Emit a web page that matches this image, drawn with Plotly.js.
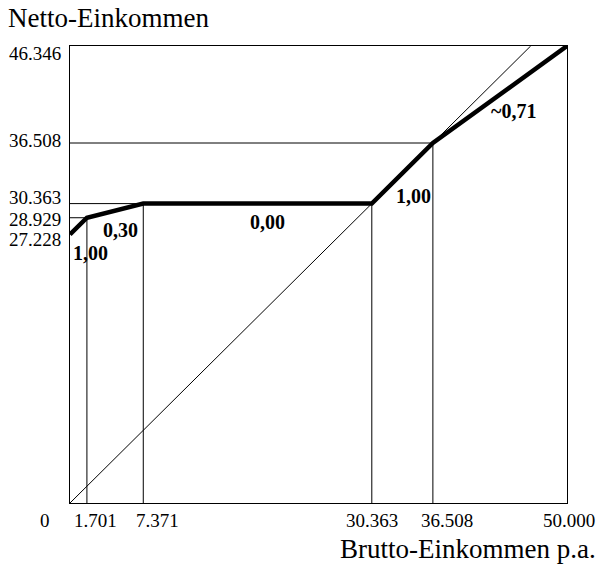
<!DOCTYPE html>
<html>
<head>
<meta charset="utf-8">
<script src="https://cdn.plot.ly/plotly-3.0.1.min.js"></script>
<style>html,body{margin:0;padding:0;background:#fff;}#chart{width:599px;height:567px;}</style>
</head>
<body>
<div id="chart"></div>
<script>
// ---- data ----
const bruttoPoints = [0, 1701, 7371, 30363, 36508, 50000];
const nettoPoints  = [27228, 28929, 30363, 30363, 36508, 46346];
const slopeLabels  = ["1,00", "0,30", "0,00", "1,00", "~0,71"];
const xTickVals    = [0, 1701, 7371, 30363, 36508, 50000];
const xTickLabels  = ["0", "1.701", "7.371", "30.363", "36.508", "50.000"];
const yTickVals    = [46346, 36508, 30363, 28929, 27228];
const yTickLabels  = ["46.346", "36.508", "30.363", "28.929", "27.228"];
const diagonalEnd  = 46346;
const xTitle = "Brutto-Einkommen p.a.";
const yTitle = "Netto-Einkommen";

// ---- styling ----
const FONT = "Liberation Serif, Times New Roman, serif";
const xMax = 50000, yMax = 46346;
const thin = {color: "#000", width: 1};

const traces = [];
// diagonal reference (netto = brutto)
traces.push({x: [0, diagonalEnd], y: [0, diagonalEnd], mode: "lines", line: thin, hoverinfo: "skip"});
// guide lines from kink points to the axes
for (let i = 1; i < bruttoPoints.length - 1; i++) {
  const bx = bruttoPoints[i], ny = nettoPoints[i];
  traces.push({x: [bx, bx], y: [0, ny], mode: "lines", line: thin, hoverinfo: "skip"});
  if (i !== 3) traces.push({x: [0, bx], y: [ny, ny], mode: "lines", line: thin, hoverinfo: "skip"});
}
// thick income curve
traces.push({x: bruttoPoints, y: nettoPoints, mode: "lines", line: {color: "#000", width: 4.5}, hoverinfo: "skip"});

const annotations = [];
const xShift = [-25, 9, 14, 0, 14, 2];
xTickVals.forEach((v, i) => annotations.push({
  x: v, y: 0, xref: "x", yref: "y", text: xTickLabels[i], showarrow: false,
  xanchor: "center", yanchor: "middle", xshift: xShift[i], yshift: -17,
  font: {family: FONT, size: 19, color: "#000"}
}));
const yShift = [-7, 3, 6, -2, -5];
yTickVals.forEach((v, i) => annotations.push({
  x: 0, y: v, xref: "paper", yref: "y", text: yTickLabels[i], showarrow: false,
  xanchor: "right", yanchor: "middle", xshift: -7, yshift: yShift[i],
  font: {family: FONT, size: 19, color: "#000"}
}));
const labShift = [[12, -27], [5, -19], [10, -18], [11, -23], [14, -16]];
slopeLabels.forEach((t, i) => annotations.push({
  x: (bruttoPoints[i] + bruttoPoints[i + 1]) / 2,
  y: (nettoPoints[i] + nettoPoints[i + 1]) / 2,
  xref: "x", yref: "y", text: "<b>" + t + "</b>", showarrow: false,
  xanchor: "center", yanchor: "middle", xshift: labShift[i][0], yshift: labShift[i][1],
  font: {family: FONT, size: 20, color: "#000"}
}));
annotations.push({x: 0, y: 1, xref: "paper", yref: "paper", xshift: -64, yshift: 28,
  text: yTitle, showarrow: false, xanchor: "left", yanchor: "middle",
  font: {family: FONT, size: 27, color: "#000"}});
annotations.push({x: 1, y: 0, xref: "paper", yref: "paper", xshift: 31, yshift: -46,
  text: xTitle, showarrow: false, xanchor: "right", yanchor: "middle",
  font: {family: FONT, size: 27, color: "#000"}});

const axisBase = {showgrid: false, zeroline: false, showticklabels: false, ticks: "",
  showline: true, mirror: true, linecolor: "#000", linewidth: 1, fixedrange: true};

const layout = {
  width: 599, height: 567,
  margin: {l: 70, r: 32, t: 46, b: 64},
  paper_bgcolor: "#fff", plot_bgcolor: "#fff",
  showlegend: false,
  xaxis: Object.assign({range: [0, xMax]}, axisBase),
  yaxis: Object.assign({range: [0, yMax]}, axisBase),
  annotations: annotations
};
Plotly.newPlot("chart", traces, layout, {staticPlot: true, displayModeBar: false});
</script>
</body>
</html>
